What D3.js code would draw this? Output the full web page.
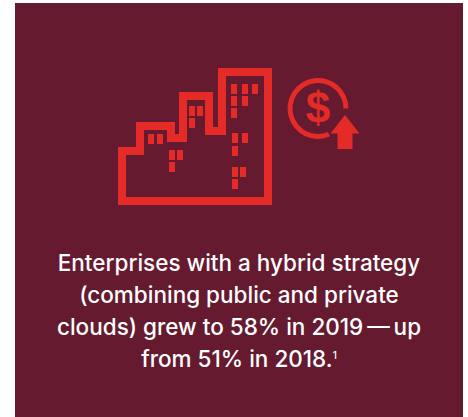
<!DOCTYPE html>
<html>
<head>
<meta charset="utf-8">
<script src="https://cdn.jsdelivr.net/npm/d3@7"></script>
<style>
  html, body { margin: 0; padding: 0; background: #fff; }
  svg { display: block; }
  text { font-family: "Liberation Sans", Arial, sans-serif; }
  .caption { font-family: Inter, "Liberation Sans", sans-serif; font-weight: 500; }
</style>
</head>
<body>
<div id="chart"></div>
<script>
// caption lines, as printed
const captionLines = [
    "Enterprises with a hybrid strategy",
    "(combining public and private",
    "clouds) grew to 58% in 2019\u2009\u2014\u2009up",
    "from 51% in 2018."
];
const footnoteMark = "1";

// building outline, in icon units
const skyline = [
    [4, 129], [4, 79], [22, 79], [22, 54], [53, 54], [53, 66], [65, 66], [65, 24],
    [91, 24], [91, 59], [104, 59], [104, 0], [150, 0], [150, 129]
];
// lit windows, in icon units (left, top)
const windowsLit = [
    [30, 62], [39, 62],
    [51, 78], [59, 78], [51, 90],
    [71, 34], [79, 34], [71, 46],
    [113, 12], [124, 12], [134, 12], [113, 24], [124, 24], [113, 36],
    [114, 61], [124, 61], [114, 74],
    [114, 95], [122, 95], [114, 107]
];
// growth arrow, in icon units
const arrowShape = [
    [0, 0], [14.5, 18.5], [7.5, 18.5], [7.5, 34], [-7.5, 34], [-7.5, 18.5], [-14.5, 18.5]
];

const width = 468, height = 417;
const maroon = "#661a30", red = "#e52b27";

const svg = d3.select("#chart")
    .append("svg")
    .attr("width", width)
    .attr("height", height);

svg.append("rect")
    .attr("x", 15)
    .attr("y", 3)
    .attr("width", 448)
    .attr("height", 414)
    .attr("fill", maroon);

// Icon scales: one unit is one pixel
const iconX = d3.scaleLinear().domain([0, 150]).range([118, 268]);
const iconY = d3.scaleLinear().domain([0, 129]).range([72, 201]);

const outline = d3.line()
    .x(d => iconX(d[0]))
    .y(d => iconY(d[1]))
    .curve(d3.curveLinearClosed);

svg.append("path")
    .attr("d", outline(skyline))
    .attr("fill", "none")
    .attr("stroke", red)
    .attr("stroke-width", 8)
    .attr("stroke-linejoin", "miter");

svg.selectAll(".window")
    .data(windowsLit)
    .enter().append("rect")
    .attr("class", "window")
    .attr("x", d => iconX(d[0]))
    .attr("y", d => iconY(d[1]))
    .attr("width", 6)
    .attr("height", 10)
    .attr("fill", red);

// Dollar coin
const coin = svg.append("g").attr("transform", "translate(318,108.5)");

coin.append("path")
    .attr("d", d3.arc()({
        innerRadius: 25.5,
        outerRadius: 30.5,
        startAngle: 157 * Math.PI / 180,
        endAngle: 450 * Math.PI / 180
    }))
    .attr("fill", red);

coin.append("text")
    .attr("text-anchor", "middle")
    .attr("y", 14.5)
    .attr("font-size", 44)
    .attr("font-weight", "bold")
    .attr("fill", red)
    .text("$");

const arrow = d3.line()
    .x(d => iconX(d[0]) - iconX(0) + 345)
    .y(d => iconY(d[1]) - iconY(0) + 115)
    .curve(d3.curveLinearClosed);

svg.append("path")
    .attr("d", arrow(arrowShape))
    .attr("fill", red);

// Caption
const caption = svg.selectAll(".caption")
    .data(captionLines)
    .enter().append("text")
    .attr("class", "caption")
    .attr("x", 239)
    .attr("y", (d, i) => 271 + i * 32)
    .attr("text-anchor", "middle")
    .attr("font-size", 22.5)
    .attr("fill", "#fff")
    .text(d => d);

caption.filter((d, i) => i === captionLines.length - 1)
    .append("tspan")
    .attr("font-size", 10)
    .attr("dy", -8)
    .text(footnoteMark);
</script>
</body>
</html>
